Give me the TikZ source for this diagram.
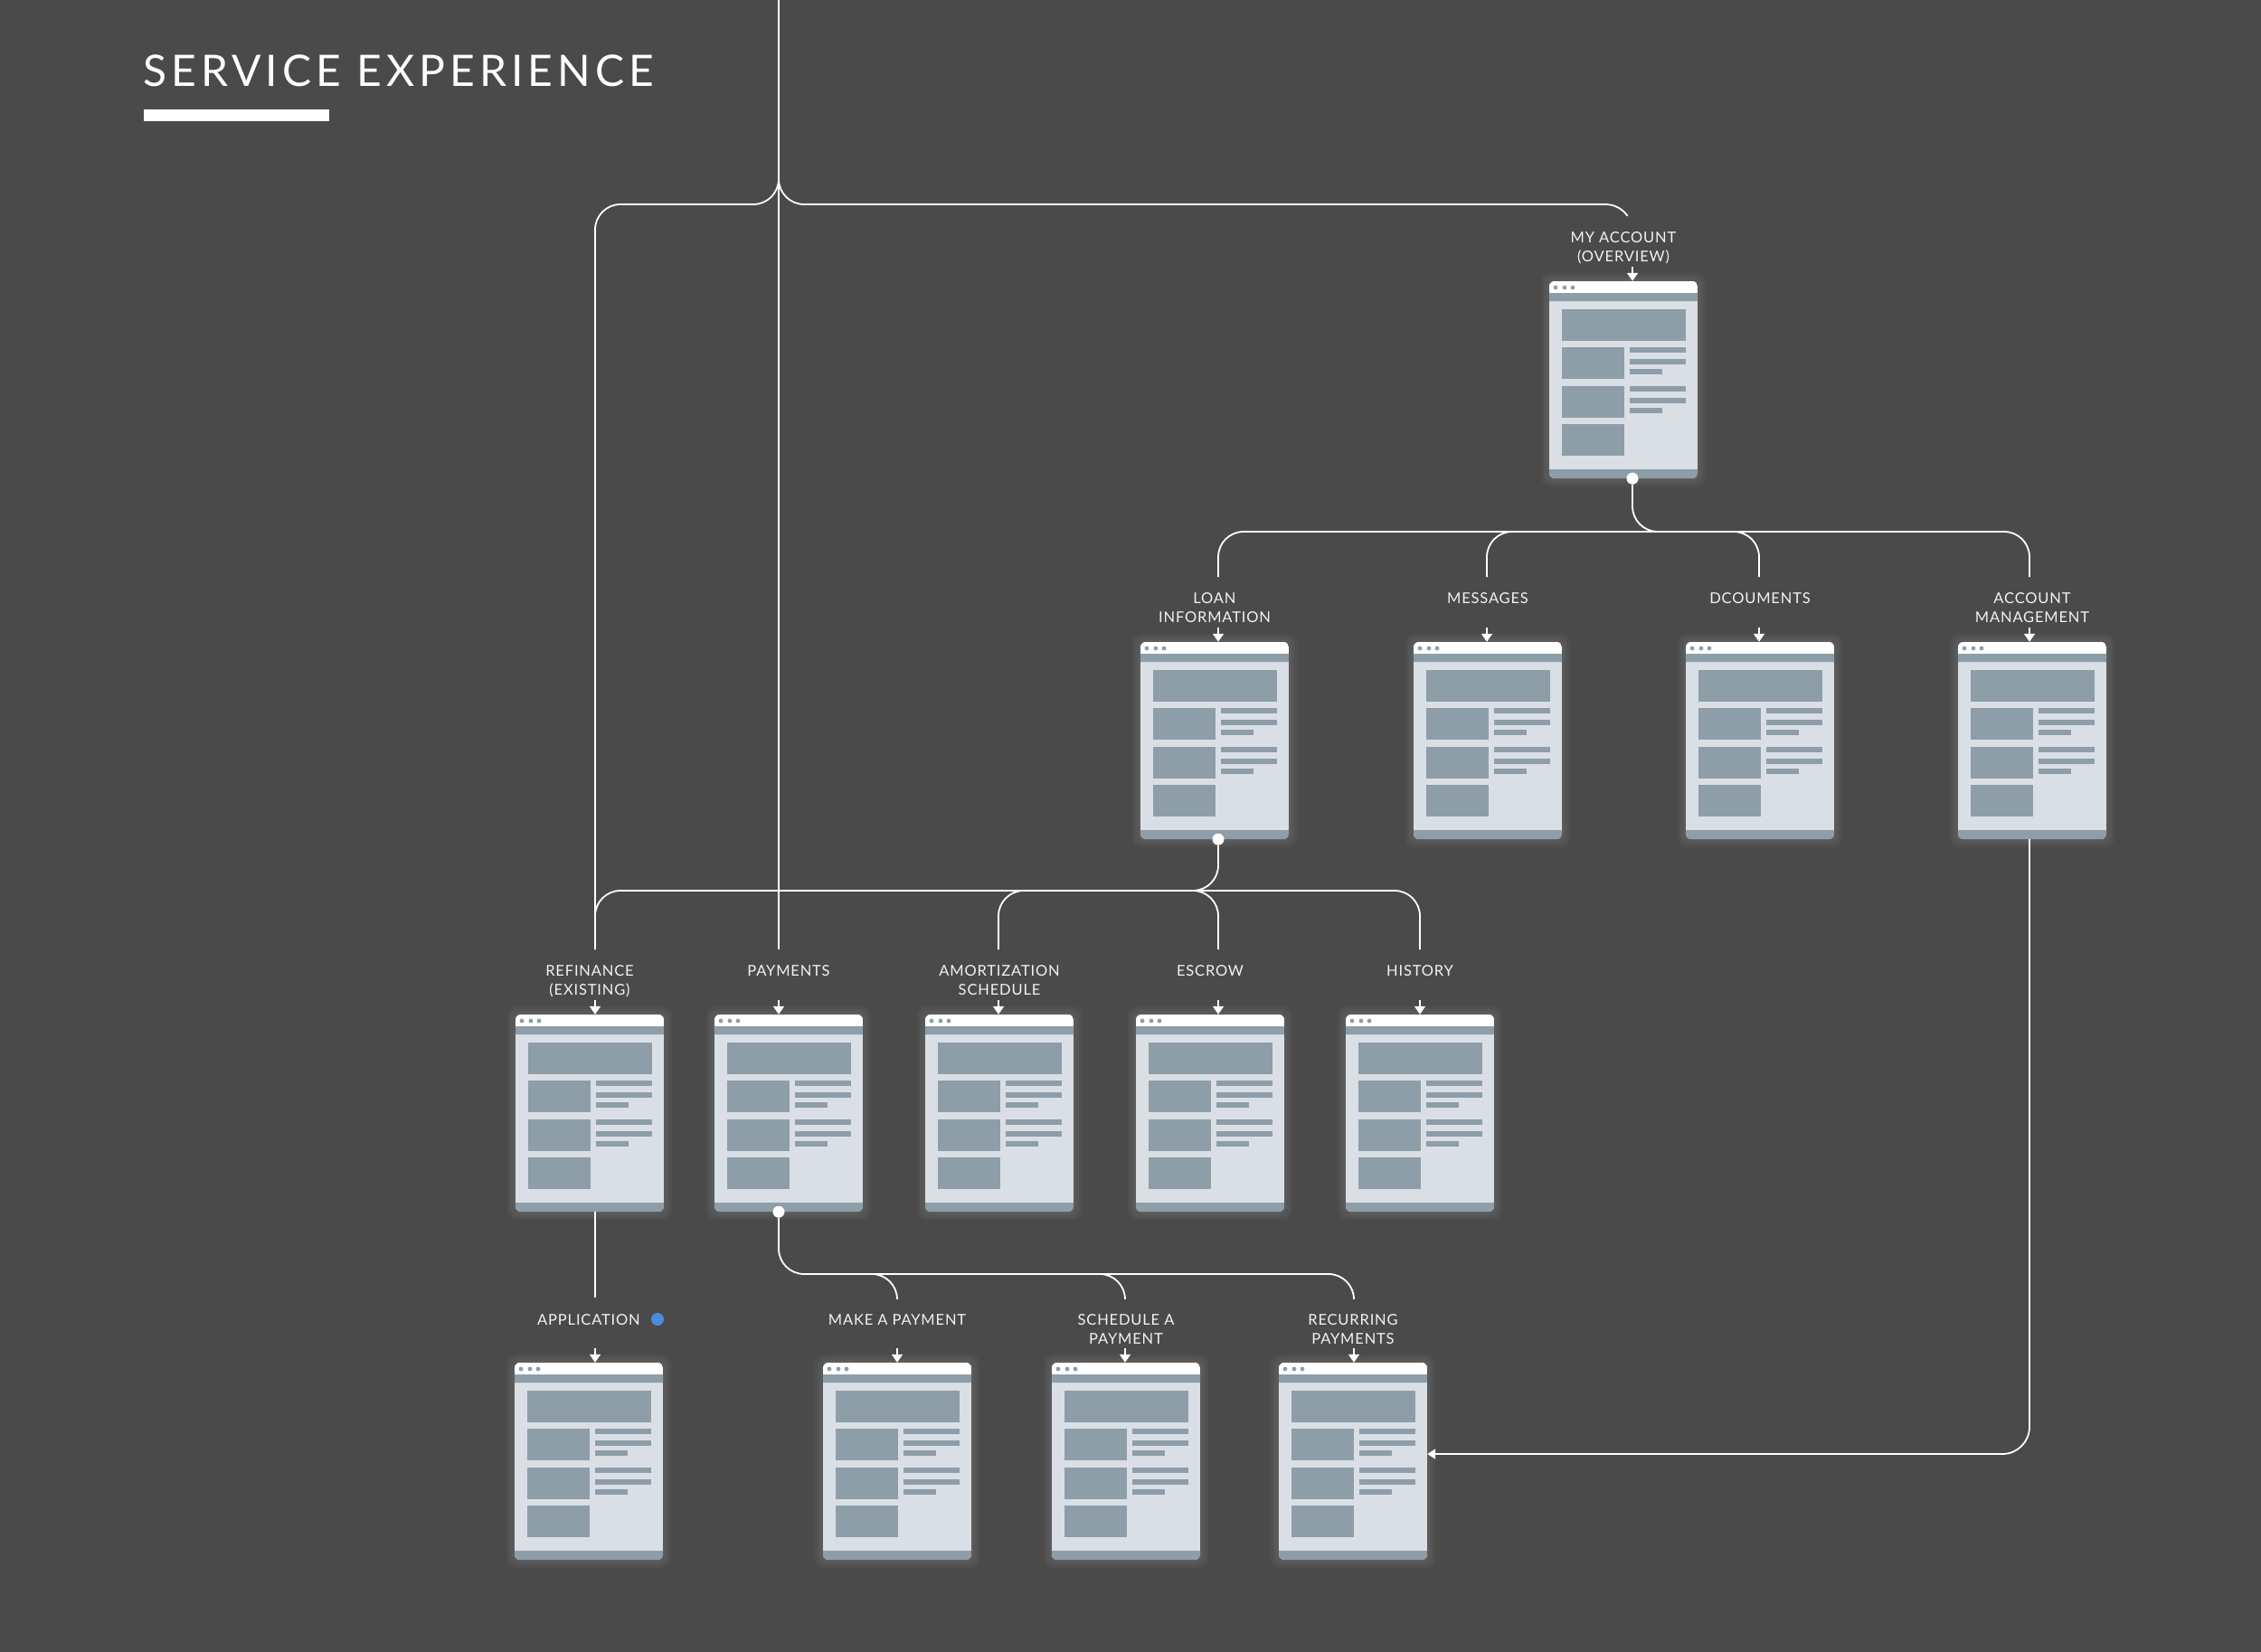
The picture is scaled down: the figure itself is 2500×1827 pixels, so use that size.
\documentclass[tikz,border=0pt]{standalone}
\usepackage{fontspec}
\setmainfont{Lato}
\newfontfamily\labelfont[LetterSpace=5]{Lato}
\newfontfamily\titlefont[LetterSpace=10.5]{Lato}
\usetikzlibrary{arrows.meta,calc}
\definecolor{seBg}{HTML}{4A4A4A}
\definecolor{seBody}{HTML}{D9DFE5}
\definecolor{seBlock}{HTML}{8E9EA8}
\definecolor{seBlue}{HTML}{4A8BDF}
\definecolor{seInk}{HTML}{F2F2F2}
\tikzset{
  link/.style={draw=white,line width=1.8pt,rounded corners=28pt},
  tip/.style={draw=white,line width=1.8pt,-{Triangle[width=12pt,length=9pt]}},
  lbl/.style={font=\labelfont\fontsize{16.5}{21}\selectfont,text=seInk,
    align=center,inner sep=0pt,anchor=base},
  dot/.style={circle,fill=white,inner sep=0pt,minimum size=13pt},
  screen/.pic={
    % soft glow
    \foreach \g in {9,6,3}
      \fill[white,opacity=0.035,rounded corners=10pt] (-82-\g,-\g) rectangle (82+\g,218+\g);
    \begin{scope}
      \clip[rounded corners=6pt] (-82,0) rectangle (82,218);
      \fill[seBody] (-82,0) rectangle (82,218);
      \fill[white] (-82,0) rectangle (82,13);
      \fill[seBlock] (-82,13) rectangle (82,22) (-82,208) rectangle (82,218);
    \end{scope}
    \foreach \dx in {-75,-65,-56} \fill[seBlock] (\dx,7) circle (2.4pt);
    \fill[seBlock] (-68,31) rectangle (69,66);
    \foreach \by in {73,116,158} \fill[seBlock] (-68,\by) rectangle (1,\by+35);
    \foreach \ly in {73,116} {
      \fill[seBlock] (7,\ly) rectangle (69,\ly+5.5);
      \fill[seBlock] (7,\ly+13) rectangle (69,\ly+18.5);
      \fill[seBlock] (7,\ly+24) rectangle (43,\ly+29.5);
    }
    \node[inner sep=0pt,minimum width=164pt,minimum height=218pt] (-frame) at (0,109) {};
  },
}
\begin{document}
\begin{tikzpicture}[x=1pt,y=-1pt]

  \fill[seBg] (0,0) rectangle (2500,1827);
  \useasboundingbox (0,0) rectangle (2500,1827);

  % title
  \node[font=\titlefont\fontsize{48}{56}\selectfont,text=white,anchor=base west,inner sep=0pt]
    (title) at (158,96) {SERVICE EXPERIENCE};
  \fill[white] (159,121) rectangle (364,134);

  % screens
  \pic (pgAcct) at (1795,311) {screen};
  \foreach \n/\x in {pgLoan/1343,pgMsg/1645,pgDocs/1946,pgMgmt/2247}
    \pic (\n) at (\x,710) {screen};
  \foreach \n/\x in {pgRefi/652,pgPay/872,pgAmort/1105,pgEscrow/1338,pgHist/1570}
    \pic (\n) at (\x,1122) {screen};
  \foreach \n/\x in {pgApp/651,pgMake/992,pgSched/1245,pgRecur/1496}
    \pic (\n) at (\x,1507) {screen};

  % labels (base = last line)
  \node[lbl] (lblAcct) at (1795,290) {MY ACCOUNT\\(OVERVIEW)};
  \node[lbl] (lblLoan) at (1343,688) {LOAN\\INFORMATION};
  \node[lbl] (lblMsg) at (1645,667) {MESSAGES};
  \node[lbl] (lblDocs) at (1946,667) {DCOUMENTS};
  \node[lbl] (lblMgmt) at (2247,688) {ACCOUNT\\MANAGEMENT};
  \node[lbl] (lblRefi) at (652,1100) {REFINANCE\\(EXISTING)};
  \node[lbl] (lblPay) at (872,1079) {PAYMENTS};
  \node[lbl] (lblAmort) at (1105,1100) {AMORTIZATION\\SCHEDULE};
  \node[lbl] (lblEscrow) at (1338,1079) {ESCROW};
  \node[lbl] (lblHist) at (1570,1079) {HISTORY};
  \node[lbl] (lblApp) at (651,1465) {APPLICATION};
  \node[lbl] (lblMake) at (992,1465) {MAKE A PAYMENT};
  \node[lbl] (lblSched) at (1245,1486) {SCHEDULE A\\PAYMENT};
  \node[lbl] (lblRecur) at (1496,1486) {RECURRING\\PAYMENTS};
  \node[circle,fill=seBlue,inner sep=0pt,minimum size=14pt] (newApp) at (727,1459) {};

  % junction points
  \coordinate (trunk) at (861,0);
  \coordinate (fork) at (861,226);
  \coordinate (acctBend) at (1775,226);
  \coordinate (busAcct) at (1805,588);
  \coordinate (busLoan) at (1347,985);
  \coordinate (busPay) at (889,1409);
  \coordinate (inLoan) at (1347,638);
  \coordinate (inMsg) at (1644,638);
  \coordinate (inDocs) at (1945,638);
  \coordinate (inMgmt) at (2244,638);
  \coordinate (inRefi) at (658,1050);
  \coordinate (inPay) at (861,1050);
  \coordinate (inAmort) at (1104,1050);
  \coordinate (inEscrow) at (1347,1050);
  \coordinate (inHist) at (1570,1050);
  \coordinate (inApp) at (658,1435);
  \coordinate (inMake) at (992,1437);
  \coordinate (inSched) at (1244,1437);
  \coordinate (inRecur) at (1497,1437);

  \node[dot] (dotAcct) at ($(pgAcct-frame.south)+(10,0)$) {};
  \node[dot] (dotLoan) at ($(pgLoan-frame.south)+(4,0)$) {};
  \node[dot] (dotPay) at ($(pgPay-frame.south)+(-11,0)$) {};

  % top level
  \draw[link] (trunk) -- (inPay);
  \draw[link] (trunk) -- (fork) -- (fork -| inRefi) -- (inRefi);
  \draw[link] (trunk) -- (fork) -- (acctBend);
  \draw[link] (acctBend) arc[start angle=-90,end angle=-35,radius=30];

  % my account children
  \draw[link] (dotAcct) -- (busAcct) -- (busAcct -| inMgmt) -- (inMgmt);
  \draw[link] (busAcct) -- (busAcct -| inDocs) -- (inDocs);
  \draw[link] (busAcct) -- (busAcct -| inLoan) -- (inLoan);
  \draw[link] (busAcct) -- (busAcct -| inMsg) -- (inMsg);

  % loan information children
  \draw[link] (dotLoan) -- (busLoan) -- (busLoan -| inRefi) -- (inRefi);
  \draw[link] (busLoan) -- (busLoan -| inAmort) -- (inAmort);
  \draw[link] (busLoan -| inAmort) -- (busLoan) -- (inEscrow);
  \draw[link] (busLoan) -- (busLoan -| inHist) -- (inHist);

  % payments children
  \draw[link] (dotPay) -- (dotPay |- busPay) -- (busPay -| inRecur) -- (inRecur);
  \draw[link] (busPay) -- (busPay -| inMake) -- (inMake);
  \draw[link] (busPay) -- (busPay -| inSched) -- (inSched);

  \draw[link] (pgRefi-frame.south -| inRefi) -- (inApp);
  \draw[link,rounded corners=30pt,-{Triangle[width=11pt,length=9pt]}]
    (pgMgmt-frame.south -| inMgmt) |- ($(pgRecur-frame.east)+(0,-8)$);

  % arrows into screens
  \foreach \pg/\c in {pgAcct/dotAcct,pgLoan/inLoan,pgMsg/inMsg,pgDocs/inDocs,pgMgmt/inMgmt,
      pgRefi/inRefi,pgPay/inPay,pgAmort/inAmort,pgEscrow/inEscrow,pgHist/inHist,
      pgApp/inApp,pgMake/inMake,pgSched/inSched,pgRecur/inRecur}
    \draw[tip] ($(\c |- \pg-frame.north)+(0,-16)$) -- (\c |- \pg-frame.north);

\end{tikzpicture}
\end{document}
